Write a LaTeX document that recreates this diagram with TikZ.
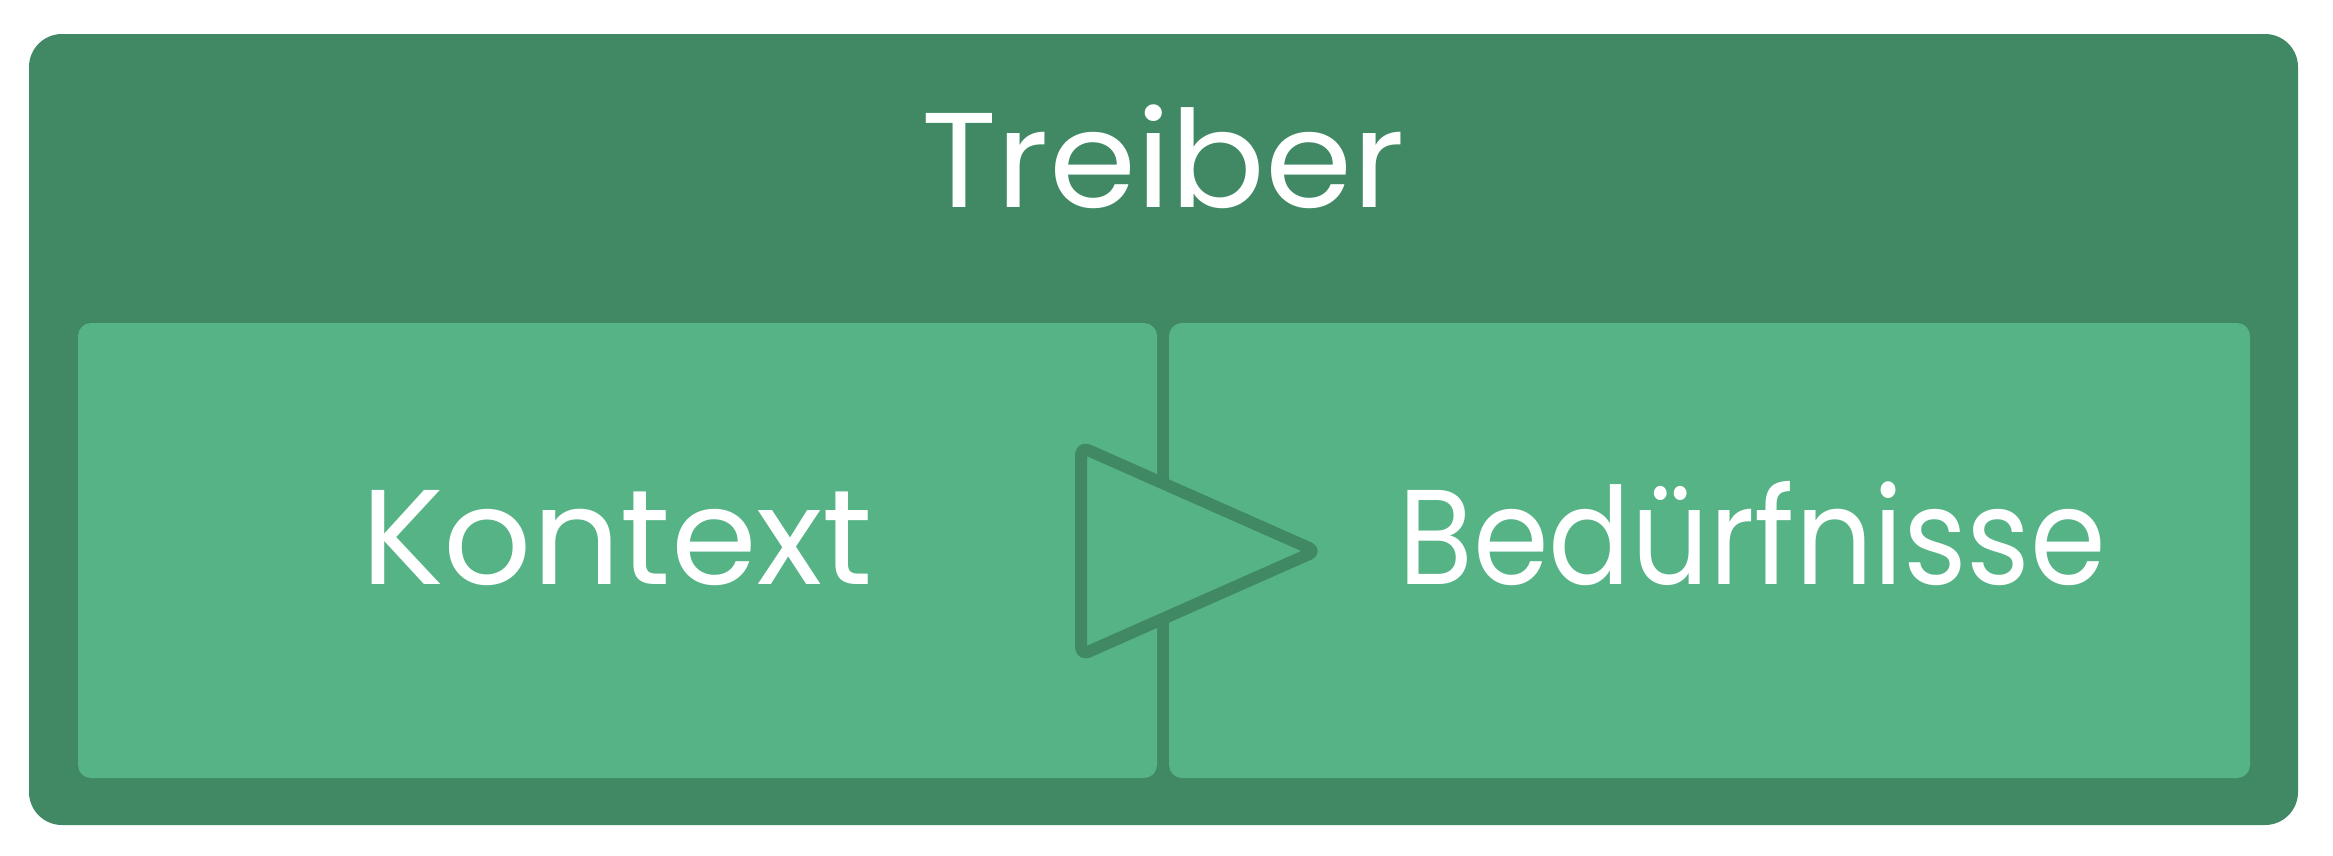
\documentclass[tikz,border=0pt]{standalone}
\usepackage{fontspec}
\usepackage{graphicx}
\setmainfont{Poppins}
\definecolor{darkg}{RGB}{64,137,100}
\definecolor{lightg}{RGB}{85,179,134}
\newcommand{\fitw}[2]{\resizebox{#1}{\height}{#2}}
\begin{document}
\begin{tikzpicture}[x=1pt,y=-1pt,
  panel/.style={fill=lightg, rounded corners=13pt},
  lbl/.style={text=white, inner sep=0pt, font=\fontsize{135}{155}\selectfont}]
\useasboundingbox (0,0) rectangle (2333,855);
\fill[darkg, rounded corners=33pt] (29,34) rectangle (2298,825);
\fill[panel] (78,323) rectangle (1157,778);
\fill[panel] (1169,323) rectangle (2250,778);
\draw[darkg, fill=lightg, line width=12pt, rounded corners=8pt, line join=round]
  (1081,447) -- (1316,551) -- (1081,655) -- cycle;
\node[lbl, anchor=base] (treiber) at (1163,207) {\fitw{484pt}{Treiber}};
\node[lbl, anchor=base west] (kontext) at (361,584) {\fitw{512pt}{Kontext}};
\node[lbl, anchor=base west] (bed) at (1398,584) {\fitw{708pt}{Bedürfnisse}};
\end{tikzpicture}
\end{document}
